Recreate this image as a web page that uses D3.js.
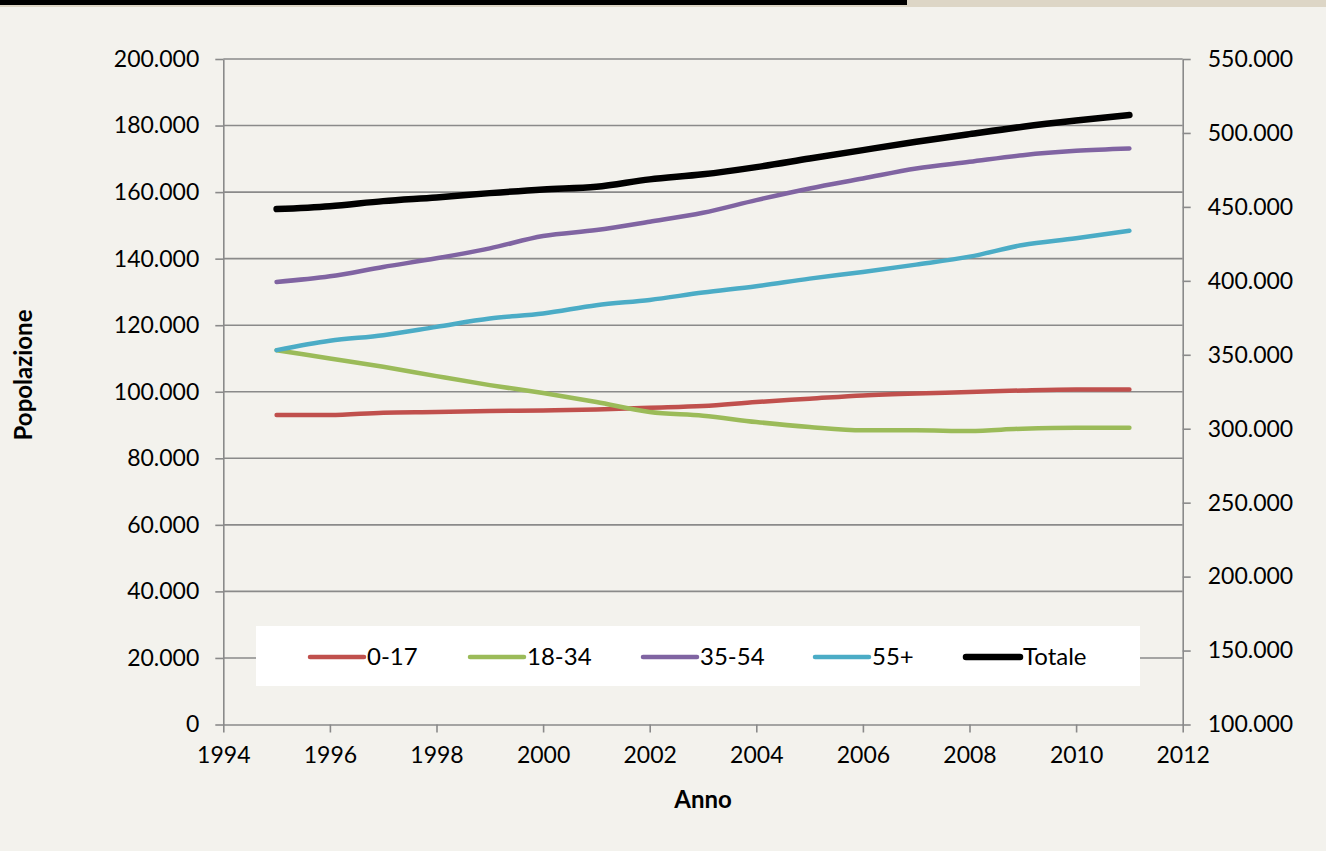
<!DOCTYPE html>
<html>
<head>
<meta charset="utf-8">
<script src="https://cdn.jsdelivr.net/npm/d3@7"></script>
<style>
  html, body { margin: 0; padding: 0; background: #f3f2ed; }
  svg { display: block; }
</style>
</head>
<body>
<svg id="chart" width="1326" height="851"></svg>
<script>
// ---- data ----
const years = [1995,1996,1997,1998,1999,2000,2001,2002,2003,2004,2005,2006,2007,2008,2009,2010,2011];
const age0_17  = [93000,93000,93700,93900,94200,94400,94700,95200,95700,96900,97900,98900,99500,99900,100400,100700,100700];
const age18_34 = [112500,110000,107500,104700,102000,99600,96900,93900,92800,90900,89400,88400,88400,88200,88900,89200,89200];
const age35_54 = [133000,134700,137500,140100,143100,146800,148600,151100,153800,157600,161100,164100,167100,169100,171100,172400,173100];
const age55    = [112500,115300,117000,119500,122000,123500,126000,127600,129800,131700,134000,136000,138200,140600,144100,146100,148400];
const totale   = [448500,450500,453900,456400,459300,461800,463600,468600,472000,476900,482700,488400,494000,499200,504200,508400,512100];
const seriesNames = ["0-17","18-34","35-54","55+","Totale"];
const xTicks = [1994,1996,1998,2000,2002,2004,2006,2008,2010,2012];
const leftTicks = [0,20000,40000,60000,80000,100000,120000,140000,160000,180000,200000];
const rightTicks = [100000,150000,200000,250000,300000,350000,400000,450000,500000,550000];
const xTitle = "Anno";
const yTitle = "Popolazione";

// ---- setup ----
const svg = d3.select("#chart");
const W = 1326, H = 851;
const fontFam = "Lato, 'Open Sans', sans-serif";
const plot = {left: 223.3, right: 1182.7, top: 59, bottom: 724.5};
const gridColor = "#8a8a8a";

// background + top strip
svg.append("rect").attr("width", W).attr("height", H).attr("fill", "#f3f2ed");
svg.append("rect").attr("x", 0).attr("y", 0).attr("width", W).attr("height", 7).attr("fill", "#ddd6c6");
svg.append("rect").attr("x", 0).attr("y", 0).attr("width", 907).attr("height", 5).attr("fill", "#000");

const itLocale = d3.formatLocale({decimal: ",", thousands: ".", grouping: [3], currency: ["€", ""]});
const fmt = itLocale.format(",d");

const x = d3.scaleLinear().domain([1994, 2012]).range([plot.left, plot.right]);
const yL = d3.scaleLinear().domain([0, 200000]).range([plot.bottom, plot.top]);
const yR = d3.scaleLinear().domain([100000, 550000]).range([plot.bottom, plot.top]);

// gridlines
svg.append("g").selectAll("line").data(leftTicks.filter(d => d > 0)).join("line")
  .attr("x1", plot.left).attr("x2", plot.right)
  .attr("y1", d => yL(d)).attr("y2", d => yL(d))
  .attr("stroke", gridColor).attr("stroke-width", 1.6);

// axes
function styleAxis(g) {
  g.select(".domain").attr("stroke", gridColor).attr("stroke-width", 1.6);
  g.selectAll(".tick line").attr("stroke", gridColor).attr("stroke-width", 1.6);
  g.selectAll(".tick text").attr("fill", "#000").style("font-family", fontFam).style("font-size", "23px");
}
const axL = svg.append("g").attr("transform", `translate(${plot.left},0)`)
  .call(d3.axisLeft(yL).tickValues(leftTicks).tickFormat(fmt).tickSizeInner(8).tickSizeOuter(0).tickPadding(16));
styleAxis(axL);
const axR = svg.append("g").attr("transform", `translate(${plot.right},0)`)
  .call(d3.axisRight(yR).tickValues(rightTicks).tickFormat(fmt).tickSizeInner(8).tickSizeOuter(0).tickPadding(17));
styleAxis(axR);
const axB = svg.append("g").attr("transform", `translate(0,${plot.bottom})`)
  .call(d3.axisBottom(x).tickValues(xTicks).tickFormat(d3.format("d")).tickSizeInner(8).tickSizeOuter(0).tickPadding(14));
styleAxis(axB);

// titles
svg.append("text").attr("x", (plot.left + plot.right) / 2).attr("y", 808)
  .attr("text-anchor", "middle").style("font-family", fontFam).style("font-weight", "bold").style("font-size", "24px")
  .text(xTitle);
svg.append("text").attr("transform", `translate(32,375) rotate(-90)`)
  .attr("text-anchor", "middle").style("font-family", fontFam).style("font-weight", "bold").style("font-size", "24px")
  .text(yTitle);

// lines
const colors = ["#c0504d", "#9bbb59", "#8064a2", "#4bacc6", "#000000"];
const widths = [4.5, 4.5, 4.5, 4.5, 6.5];
const data = [age0_17, age18_34, age35_54, age55, totale];
const scales = [yL, yL, yL, yL, yR];
data.forEach((vals, i) => {
  const line = d3.line().x((d, j) => x(years[j])).y(d => scales[i](d)).curve(d3.curveMonotoneX);
  svg.append("path").datum(vals).attr("d", line)
    .attr("fill", "none").attr("stroke", colors[i]).attr("stroke-width", widths[i])
    .attr("stroke-linecap", "round").attr("stroke-linejoin", "round");
});

// legend
const lg = svg.append("g");
lg.append("rect").attr("x", 256).attr("y", 626).attr("width", 884).attr("height", 60).attr("fill", "#ffffff");
const legendX = [310, 470, 643, 815, 966];
seriesNames.forEach((name, i) => {
  lg.append("line").attr("x1", legendX[i]).attr("x2", legendX[i] + 54).attr("y1", 657).attr("y2", 657)
    .attr("stroke", colors[i]).attr("stroke-width", widths[i]).attr("stroke-linecap", "round");
  lg.append("text").attr("x", legendX[i] + 57).attr("y", 657).attr("dy", "0.35em")
    .style("font-family", fontFam).style("font-size", "24px").attr("fill", "#000").text(name);
});
</script>
</body>
</html>
